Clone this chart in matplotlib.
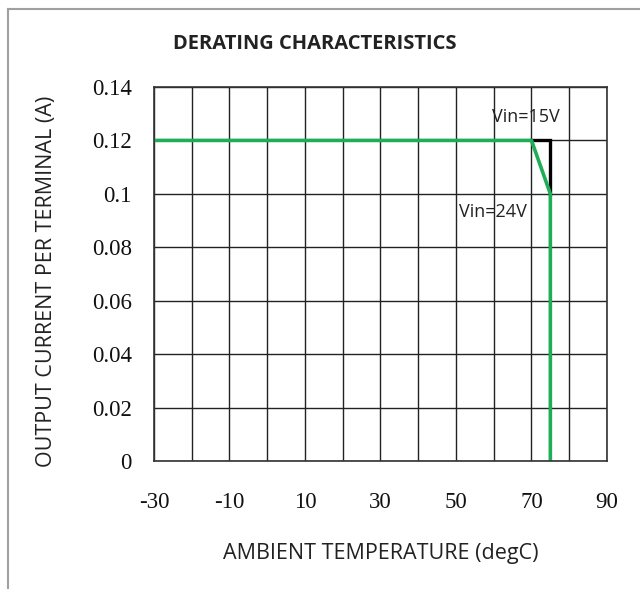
import matplotlib
matplotlib.use("Agg")
import matplotlib.pyplot as plt
from matplotlib.lines import Line2D

plt.rcParams["axes.unicode_minus"] = False

# data
temp_24v = [-30, 70, 75, 75]
current_24v = [0.12, 0.12, 0.10, 0.0]
temp_15v = [70, 75, 75]
current_15v = [0.12, 0.12, 0.10]
x_ticks = [-30, -10, 10, 30, 50, 70, 90]
x_tick_labels = ["-30", "-10", "10", "30", "50", "70", "90"]
y_ticks = [0, 0.02, 0.04, 0.06, 0.08, 0.1, 0.12, 0.14]
y_tick_labels = ["0", "0.02", "0.04", "0.06", "0.08", "0.1", "0.12", "0.14"]
label_15v = ("Vin=15V", 59.5, 0.1288)
label_24v = ("Vin=24V", 50.8, 0.0933)

sans = "Open Sans"
serif = "Liberation Serif"

fig = plt.figure(figsize=(6.4, 5.89), dpi=100)
ax = fig.add_axes([0.2406, 0.2173, 0.7078, 0.635])

# outer frame (top and left grey border of the original picture)
fig.add_artist(Line2D([8 / 640, 1], [1 - 9 / 589, 1 - 9 / 589], color="#a0a0a0", lw=1.5,
                      transform=fig.transFigure))
fig.add_artist(Line2D([8 / 640, 8 / 640], [0, 1 - 9 / 589], color="#a0a0a0", lw=1.5,
                      transform=fig.transFigure))

ax.set_xlim(-30, 90)
ax.set_ylim(0, 0.14)
ax.set_xticks(x_ticks)
ax.set_xticklabels(x_tick_labels)
ax.set_xticks(range(-30, 91, 10), minor=True)
ax.set_yticks(y_ticks)
ax.set_yticklabels(y_tick_labels)
ax.grid(True, which="both", color="#222222", lw=1.0)
ax.set_axisbelow(True)
ax.tick_params(which="both", length=0)
ax.tick_params(axis="x", pad=22)
ax.tick_params(axis="y", pad=16)
for lab in ax.get_xticklabels() + ax.get_yticklabels():
    lab.set_fontfamily(serif)
    lab.set_fontsize(16.5)
    lab.set_color("#111111")
for sp in ax.spines.values():
    sp.set_color("#333333")
    sp.set_linewidth(1.2)

ax.plot(temp_15v, current_15v, color="black", lw=2.4, solid_joinstyle="miter")
ax.plot(temp_24v, current_24v, color="#1fae56", lw=2.6, solid_joinstyle="miter")

for txt, x, y in (label_15v, label_24v):
    ax.text(x, y, txt, fontsize=13, family=sans, color="#222222", va="center", ha="left")

fig.text(0.492, 1 - 44 / 589, "DERATING CHARACTERISTICS", ha="center", va="center",
         fontsize=14.5, fontweight="bold", family=sans, color="#222222")
ax.set_xlabel("AMBIENT TEMPERATURE (degC)", fontsize=15.5, family=sans, color="#222222",
              labelpad=22)
ax.set_ylabel("OUTPUT CURRENT PER TERMINAL (A)", fontsize=15.5, family=sans, color="#222222")
ax.yaxis.set_label_coords(-0.214, 0.48)

fig.savefig("out.png", dpi=100, facecolor="white")
